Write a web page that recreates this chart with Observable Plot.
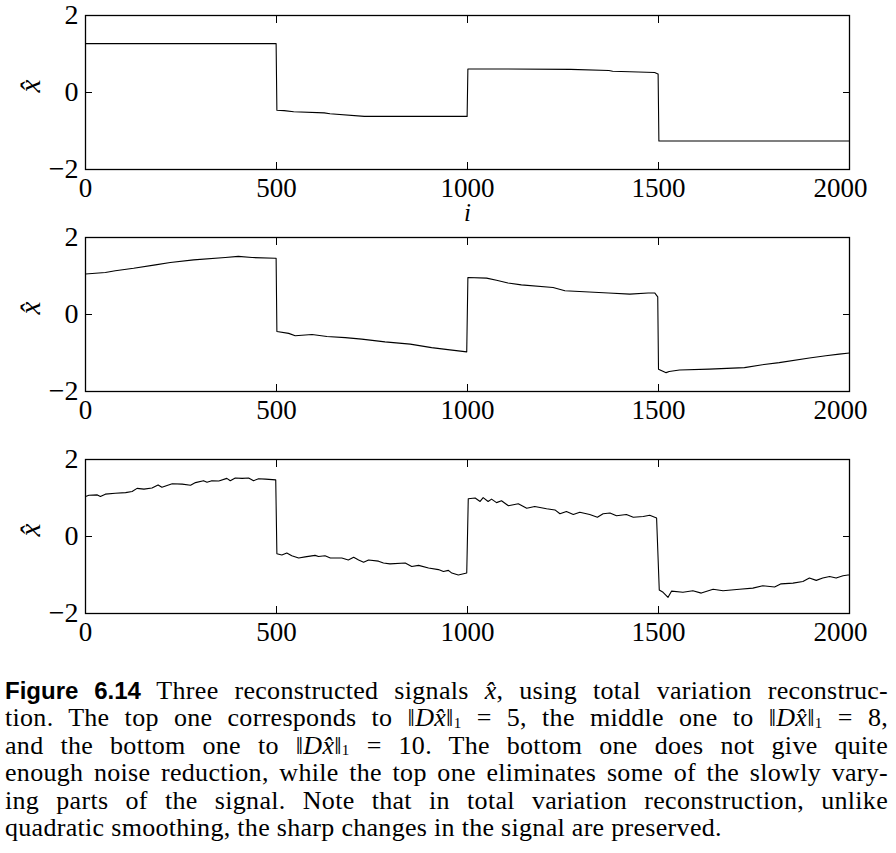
<!DOCTYPE html>
<html>
<head>
<meta charset="utf-8">
<script src="https://cdn.jsdelivr.net/npm/d3@7"></script>
<script src="https://cdn.jsdelivr.net/npm/@observablehq/plot@0.6"></script>
<style>
  body { margin: 0; background: #fff; width: 896px; }
  #charts svg { display: block; }
  .cap { font-family: "Liberation Serif", "Times New Roman", serif; font-size: 26px; line-height: 27.4px;
         letter-spacing: 0.3px; color: #000; margin: 11px 8px 0 5px; }
  .cap .ln { text-align: justify; text-align-last: justify; white-space: nowrap; }
  .cap .last { text-align: left; text-align-last: left; }
  .cap .fig { font-family: "Liberation Sans Narrow", "Liberation Sans", Arial, sans-serif; font-weight: bold; font-size: 24px; letter-spacing: 0; }
  .cap .sub { font-size: 15px; position: relative; top: 0.1em; line-height: 1; }
</style>
</head>
<body>
<div id="charts"></div>
<div class="cap">
  <div class="ln"><span class="fig">Figure 6.14</span> Three reconstructed signals <i>x̂</i>, using total variation reconstruc-</div>
  <div class="ln">tion. The top one corresponds to ‖<i>Dx̂</i>‖<span class="sub">1</span> = 5, the middle one to ‖<i>Dx̂</i>‖<span class="sub">1</span> = 8,</div>
  <div class="ln">and the bottom one to ‖<i>Dx̂</i>‖<span class="sub">1</span> = 10. The bottom one does not give quite</div>
  <div class="ln">enough noise reduction, while the top one eliminates some of the slowly vary-</div>
  <div class="ln">ing parts of the signal. Note that in total variation reconstruction, unlike</div>
  <div class="ln last">quadratic smoothing, the sharp changes in the signal are preserved.</div>
</div>
<script>
// ---- data: [index i, reconstructed value x̂] ----
const xDomain = [0, 2000];
const yDomain = [-2, 2];
const xTickLabels = [0, 500, 1000, 1500];
const xLastLabel = [2000];
const xInnerTicks = [500, 1000, 1500];
const yTickLabels = [-2, 0, 2];
const yInnerTicks = [0];

// top: ||D x̂||_1 = 5
const topSignal = [
  [0, 1.27], [499, 1.27], [501, -0.46], [520, -0.47], [545, -0.50], [625, -0.53], [640, -0.55],
  [730, -0.62], [999, -0.62], [1001, 0.61], [1100, 0.61], [1270, 0.60], [1370, 0.57], [1380, 0.55],
  [1425, 0.54], [1490, 0.52], [1497, 0.49], [1499, 0.48], [1501, -1.26], [2000, -1.26]
];

// middle: ||D x̂||_1 = 8
const middleSignal = [
  [0, 1.05], [52, 1.09], [78, 1.135], [126, 1.20], [183, 1.29], [222, 1.35], [283, 1.42], [366, 1.48],
  [400, 1.51], [436, 1.48], [497, 1.46], [499, 1.46], [501, -0.44], [532, -0.49], [549, -0.55],
  [593, -0.52], [632, -0.57], [680, -0.60], [723, -0.64], [784, -0.71], [850, -0.77], [906, -0.86],
  [954, -0.92], [998, -0.97], [1001, 0.96], [1050, 0.945], [1076, 0.89], [1106, 0.82], [1141, 0.77],
  [1224, 0.70], [1255, 0.615], [1369, 0.56], [1425, 0.53], [1473, 0.56], [1490, 0.56], [1498, 0.46],
  [1500, -1.42], [1520, -1.51], [1528, -1.48], [1555, -1.44], [1633, -1.42], [1725, -1.38],
  [1768, -1.31], [1816, -1.25], [1895, -1.13], [1938, -1.07], [1973, -1.03], [2000, -1.00]
];

// bottom: ||D x̂||_1 = 10
const bottomSignal = [
  [0, 1.04], [9, 1.07], [31, 1.08], [39, 1.04], [52, 1.10], [78, 1.125], [105, 1.14], [122, 1.17],
  [135, 1.25], [153, 1.23], [174, 1.26], [190, 1.34], [200, 1.28], [227, 1.37], [253, 1.36],
  [275, 1.33], [288, 1.40], [309, 1.45], [318, 1.41], [331, 1.45], [349, 1.44], [370, 1.51],
  [379, 1.45], [392, 1.52], [410, 1.51], [427, 1.52], [440, 1.45], [453, 1.50], [471, 1.49],
  [498, 1.47], [501, -0.45], [514, -0.48], [527, -0.43], [540, -0.50], [558, -0.56], [575, -0.53],
  [601, -0.49], [610, -0.52], [627, -0.50], [641, -0.56], [671, -0.56], [688, -0.61], [702, -0.54],
  [715, -0.61], [728, -0.67], [741, -0.61], [767, -0.64], [780, -0.69], [797, -0.71], [837, -0.69],
  [854, -0.78], [872, -0.75], [898, -0.82], [924, -0.86], [937, -0.91], [950, -0.88], [959, -0.95],
  [976, -1.00], [998, -0.95], [1002, 0.98], [1020, 1.00], [1033, 0.91], [1041, 1.01], [1054, 0.91],
  [1063, 0.97], [1076, 0.88], [1089, 0.93], [1107, 0.80], [1133, 0.85], [1155, 0.735], [1176, 0.78],
  [1207, 0.72], [1229, 0.69], [1242, 0.59], [1259, 0.65], [1277, 0.57], [1294, 0.63], [1320, 0.57],
  [1340, 0.50], [1355, 0.59], [1373, 0.61], [1390, 0.54], [1416, 0.57], [1434, 0.50], [1460, 0.52],
  [1477, 0.55], [1495, 0.48], [1502, -1.39], [1512, -1.45], [1525, -1.58], [1534, -1.42],
  [1564, -1.45], [1590, -1.41], [1612, -1.47], [1643, -1.37], [1669, -1.41], [1712, -1.37],
  [1747, -1.34], [1773, -1.28], [1804, -1.31], [1821, -1.23], [1852, -1.21], [1878, -1.17],
  [1895, -1.08], [1913, -1.14], [1930, -1.08], [1948, -1.04], [1965, -1.08], [1983, -1.02],
  [1996, -1.00], [2000, -1.00]
];

const yLabel = "x̂";
const xLabel = "i";

const minusFmt = d => (d < 0 ? "\u2212" + Math.abs(d) : String(d));
const blank = () => "";

function panel(data, showXLabel) {
  return Plot.plot({
    width: 896,
    height: 222,
    marginLeft: 85,
    marginRight: 47,
    marginTop: 15,
    marginBottom: 53,
    x: { domain: xDomain },
    y: { domain: yDomain },
    style: { fontFamily: "'Liberation Serif', 'Times New Roman', serif", fontSize: "27px", color: "black", overflow: "visible" },
    marks: [
      Plot.line(data, { x: d => d[0], y: d => d[1], stroke: "black", strokeWidth: 1.1 }),
      Plot.frame({ stroke: "black", strokeWidth: 1.3 }),
      // inner ticks
      Plot.axisX(xInnerTicks, { anchor: "bottom", tickSize: 7, dy: -7, tickFormat: blank, label: null }),
      Plot.axisX(xInnerTicks, { anchor: "top", tickSize: 7, dy: 7, tickFormat: blank, label: null }),
      Plot.axisY(yInnerTicks, { anchor: "left", tickSize: 7, dx: 7, tickFormat: blank, label: null }),
      Plot.axisY(yInnerTicks, { anchor: "right", tickSize: 7, dx: -7, tickFormat: blank, label: null }),
      // tick labels
      Plot.axisX(xTickLabels, { anchor: "bottom", tickSize: 0, tickPadding: 8, tickFormat: d => String(d), fontSize: 27, label: null }),
      Plot.axisX(xLastLabel, { anchor: "bottom", tickSize: 0, tickPadding: 8, dx: -9, tickFormat: d => String(d), fontSize: 27, label: null }),
      Plot.axisY(yTickLabels, { anchor: "left", tickSize: 0, tickPadding: 7, tickFormat: minusFmt, fontSize: 28, label: null }),
      // axis titles
      Plot.text([yLabel], { text: d => d, frameAnchor: "left", dx: -55, rotate: -90, fontStyle: "italic", fontSize: 29 }),
      showXLabel ? Plot.text([xLabel], { text: d => d, frameAnchor: "bottom", dy: 51, fontStyle: "italic", fontSize: 25 }) : null
    ]
  });
}

const host = document.getElementById("charts");
host.appendChild(panel(topSignal, true));
host.appendChild(panel(middleSignal, false));
host.appendChild(panel(bottomSignal, false));
</script>
</body>
</html>
